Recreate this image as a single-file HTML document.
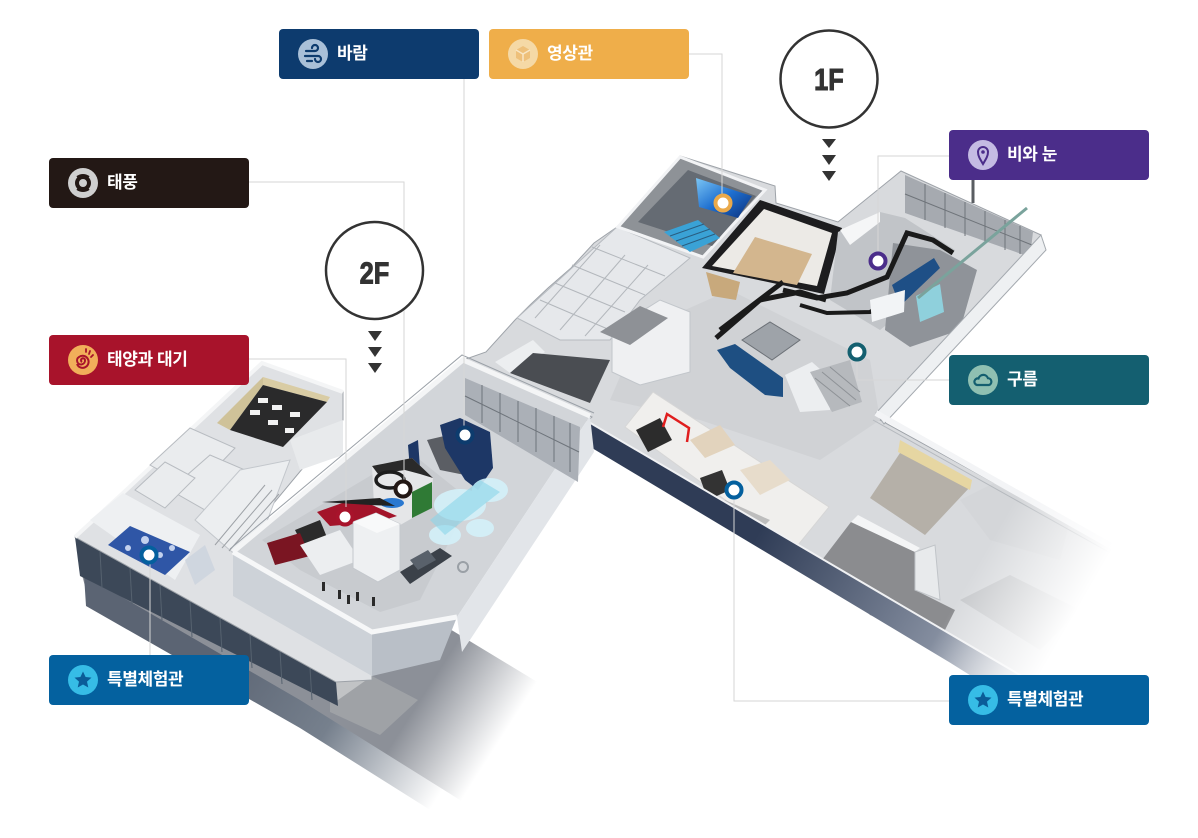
<!DOCTYPE html>
<html><head><meta charset="utf-8">
<style>
html,body{margin:0;padding:0;background:#fff;}
body{width:1198px;height:838px;position:relative;overflow:hidden;font-family:"Liberation Sans","Noto Sans CJK KR",sans-serif;}
.lb{position:absolute;width:200px;height:50px;border-radius:4px;color:#fff;font-weight:bold;font-size:17px;line-height:50px;box-sizing:border-box;padding-left:58px;letter-spacing:-0.4px;white-space:nowrap;}
.lb svg{position:absolute;left:19px;top:10px;width:30px;height:30px;}
svg.main{position:absolute;left:0;top:0;}
</style></head>
<body>
<svg class="main" width="1198" height="838" viewBox="0 0 1198 838">
<defs>
 <linearGradient id="plaza" gradientUnits="userSpaceOnUse" x1="470" y1="622" x2="545" y2="670">
  <stop offset="0" stop-color="#8c9098"/>
  <stop offset="1" stop-color="#ffffff"/>
 </linearGradient>
 <linearGradient id="base" gradientUnits="userSpaceOnUse" x1="280" y1="560" x2="500" y2="700">
  <stop offset="0" stop-color="#5b6473"/>
  <stop offset="0.5" stop-color="#76808d"/>
  <stop offset="1" stop-color="#ffffff"/>
 </linearGradient>
 <linearGradient id="band" gradientUnits="userSpaceOnUse" x1="760" y1="530" x2="1080" y2="710">
  <stop offset="0" stop-color="#2f3c56"/>
  <stop offset="0.6" stop-color="#8a93a4"/>
  <stop offset="1" stop-color="#ffffff"/>
 </linearGradient>
 <linearGradient id="fadeR" gradientUnits="userSpaceOnUse" x1="1000" y1="525" x2="1095" y2="580">
  <stop offset="0" stop-color="#fff" stop-opacity="0"/>
  <stop offset="1" stop-color="#fff" stop-opacity="1"/>
 </linearGradient>
 <linearGradient id="screen" x1="0" y1="0" x2="1" y2="1">
  <stop offset="0" stop-color="#7cc6f4"/>
  <stop offset="0.5" stop-color="#1e6fd0"/>
  <stop offset="1" stop-color="#0c2f7a"/>
 </linearGradient>
</defs>

<!-- lower-left ground: plaza + base face -->
<polygon points="78,560 338,700 372,676 430,617 600,720 470,822 443,800 86,590" fill="url(#plaza)"/>
<polygon points="330,660 372,676 418,700 380,735 330,712" fill="#a6a9ad" opacity="0.7"/>
<polygon points="84,575 300,700 460,800 470,835 300,728 86,606" fill="url(#base)"/>
<!-- glass band -->
<polygon points="75,537 336,682 338,706 80,576" fill="#3c4858"/>
<g stroke="#56626f" stroke-width="1">
 <line x1="100" y1="552" x2="102" y2="588"/><line x1="130" y1="568" x2="132" y2="604"/>
 <line x1="160" y1="585" x2="162" y2="620"/><line x1="190" y1="601" x2="192" y2="637"/>
 <line x1="220" y1="618" x2="222" y2="652"/><line x1="250" y1="634" x2="252" y2="668"/>
 <line x1="280" y1="651" x2="282" y2="684"/><line x1="310" y1="668" x2="312" y2="700"/>
</g>

<!-- 1F main floor -->
<polygon points="680,156 775,186 776,203 838,222 901,171 1041,235 1043,252 880,420 1180,585 1180,720 1060,700 587,421 592,417 463,360 486,352 515,320 530,305 548,288 571,268 594,243 617,227" fill="#d8dadd" stroke="#9ea3a9" stroke-width="1"/>
<polygon points="640,330 730,290 870,360 880,420 820,460 700,420 610,400" fill="#d0d2d5"/>
<!-- small rooms grid -->
<polygon points="517,318 617,227 690,258 640,300 610,340 560,340" fill="#e6e8eb" stroke="#b7bbc0"/>
<g stroke="#b3b7bc" stroke-width="1" fill="none">
 <line x1="540" y1="300" x2="610" y2="330"/><line x1="555" y1="283" x2="625" y2="312"/>
 <line x1="572" y1="265" x2="645" y2="295"/><line x1="592" y1="247" x2="665" y2="276"/>
 <line x1="560" y1="330" x2="625" y2="255"/><line x1="585" y1="336" x2="648" y2="265"/>
 <line x1="535" y1="318" x2="600" y2="245"/>
</g>
<!-- white tall block and stairs -->
<polygon points="612,330 660,300 690,312 690,372 640,385 612,372" fill="#eff0f2" stroke="#c2c6cb"/>
<polygon points="600,332 640,306 668,318 630,345" fill="#8e9196"/>
<!-- dark room -->
<polygon points="495,362 533,340 545,352 510,373" fill="#eceef0"/>
<polygon points="510,373 533,353 610,360 590,403" fill="#4a4d52"/>

<!-- 영상관 room -->
<polygon points="680,157 765,190 703,257 618,227" fill="#8e9297" stroke="#f2f3f5" stroke-width="3"/>
<polygon points="688,170 756,196 712,246 638,222" fill="#656b73"/>
<polygon points="696,178 752,196 738,218 699,207" fill="url(#screen)"/>
<polygon points="664,232 698,220 720,238 690,252" fill="#3aa2d6"/>
<g stroke="#2a5d80" stroke-width="1"><line x1="670" y1="236" x2="704" y2="224"/><line x1="676" y1="241" x2="710" y2="229"/><line x1="682" y1="246" x2="715" y2="234"/></g>

<!-- black-walled room -->
<polygon points="760,200 842,228 824,294 702,268" fill="#1d1d1f"/>
<polygon points="764,209 832,233 817,286 712,266" fill="#eceae6"/>
<polygon points="755,237 812,254 797,285 733,273" fill="#d3b68e"/>
<polygon points="706,272 740,282 736,300 712,296" fill="#c8a97c"/>
<polyline points="716,338 760,300 800,292 826,300" fill="none" stroke="#1b1b1b" stroke-width="5"/>

<!-- 비와 눈 area -->
<polygon points="838,232 880,212 905,218 955,250 930,290 880,330 830,300" fill="#c1c4c8"/>
<polygon points="893,243 940,250 977,270 960,330 910,347 885,330" fill="#8f9399"/>
<polyline points="783,290 817,298 847,293 887,277 907,233 933,240 953,253" fill="none" stroke="#1a1a1a" stroke-width="5"/>
<polyline points="720,330 783,282" fill="none" stroke="#1a1a1a" stroke-width="5"/>
<polyline points="800,305 827,313 870,312 905,290" fill="none" stroke="#1a1a1a" stroke-width="4"/>
<polygon points="892,285 934,258 940,268 900,306" fill="#1e4f86"/>
<polygon points="916,296 940,284 944,312 920,322" fill="#8fd0dc"/>
<polygon points="870,300 905,290 904,312 872,322" fill="#f2f4f6"/>
<polygon points="905,175 1033,232 1030,257 905,213" fill="#a6aab0"/>
<g stroke="#6f747a" stroke-width="1">
 <line x1="905" y1="194" x2="1032" y2="245"/>
 <line x1="925" y1="184" x2="925" y2="220"/><line x1="945" y1="193" x2="945" y2="228"/>
 <line x1="965" y1="202" x2="965" y2="236"/><line x1="985" y1="211" x2="985" y2="243"/>
 <line x1="1005" y1="220" x2="1005" y2="250"/><line x1="1020" y1="226" x2="1020" y2="254"/>
</g>
<polygon points="1041,235 1046,250 884,424 876,413" fill="#eef0f2" stroke="#a4a9af"/>
<line x1="1027" y1="208" x2="918" y2="298" stroke="#7aa39c" stroke-width="3"/>
<line x1="973" y1="179" x2="973" y2="203" stroke="#5a5d62" stroke-width="3"/>
<polygon points="840,230 880,212 880,222 850,245" fill="#f5f6f7"/>

<!-- lobby blue exhibit & cage -->
<polygon points="742,340 770,322 800,340 772,360" fill="#9ea3a9" stroke="#6c7177"/>
<polygon points="717,350 735,344 783,378 783,397 765,395 730,368" fill="#1e4f82"/>
<polygon points="785,375 812,362 830,378 830,410 800,412" fill="#eceef0"/>
<polygon points="810,372 850,360 862,402 832,412" fill="#b6b9bd"/>
<g stroke="#8e9297" stroke-width="1"><line x1="815" y1="378" x2="850" y2="406"/><line x1="822" y1="372" x2="856" y2="400"/><line x1="830" y1="367" x2="860" y2="392"/></g>

<!-- corridor: 특별체험관 room -->
<polygon points="625,427 653,392 829,507 794,550" fill="#f0efed" stroke="#d6d6d6"/>
<polygon points="636,430 660,418 672,440 648,452" fill="#2c2c2c"/>
<polyline points="663,427 667,414 689,428 687,442" fill="none" stroke="#e01e1e" stroke-width="2.5"/>
<polygon points="700,478 722,470 730,490 708,500" fill="#333"/>
<polygon points="690,440 720,425 735,445 705,458" fill="#e2d3bd"/>
<polygon points="740,470 770,460 790,480 760,495" fill="#e7dccb"/>
<polygon points="725,500 770,520 760,530 718,510" fill="#bdbdbd"/>
<!-- lounge -->
<polygon points="904,447 970,487 925,535 870,498" fill="#b5b0a8"/>
<polygon points="900,440 972,480 970,490 898,452" fill="#e6d6a2"/>
<!-- dark grey room -->
<polygon points="822,560 851,522 915,552 915,590 955,610 940,640 870,615" fill="#8b8c8f"/>
<polygon points="851,522 858,515 920,548 915,552" fill="#f4f5f6"/>
<polygon points="915,552 935,545 940,600 915,590" fill="#e8eaec" stroke="#c0c4c8"/>
<polygon points="960,500 1000,480 1070,520 1060,560 990,540" fill="#d4d6d9"/>
<polygon points="960,600 1010,575 1080,610 1040,650" fill="#c7c9cc"/>
<polyline points="876,413 1180,585" fill="none" stroke="#f3f4f6" stroke-width="6"/>
<polyline points="873,420 1180,592" fill="none" stroke="#b5b9be" stroke-width="1"/>

<!-- corridor dark band -->
<polygon points="587,421 949,633 1090,716 1090,750 949,662 587,445" fill="url(#band)"/>
<line x1="587" y1="421" x2="1090" y2="716" stroke="#f0f1f3" stroke-width="2"/>

<!-- left wing -->
<polygon points="262,363 343,392 343,420 233,552 372,632 372,680 336,682 75,537 123,493" fill="#dfe1e4" stroke="#9da2a8" stroke-width="1"/>
<polyline points="75,537 123,493 262,363 343,392" fill="none" stroke="#f4f5f6" stroke-width="4"/>
<polygon points="263,377 330,397 327,402 263,385" fill="#d9cca4"/>
<polygon points="217,423 263,377 263,385 230,430" fill="#cfc299"/>
<polygon points="230,430 263,385 327,402 283,447" fill="#2a2a2b"/>
<g fill="#f2f2f2"><rect x="258" y="398" width="10" height="5"/><rect x="272" y="405" width="10" height="5"/><rect x="250" y="410" width="10" height="5"/><rect x="268" y="420" width="10" height="5"/><rect x="290" y="412" width="10" height="5"/><rect x="285" y="428" width="9" height="5"/></g>
<g stroke="#b8bcc1" stroke-width="1" fill="#eaecee">
 <polygon points="150,465 190,428 235,448 195,490"/>
 <polygon points="170,490 210,455 245,470 205,510"/>
 <polygon points="135,490 165,462 195,478 165,508"/>
</g>
<polygon points="195,520 240,470 290,460 260,540 232,552" fill="#eceef0" stroke="#c3c7cc"/>
<g stroke="#9da1a6" stroke-width="1"><line x1="215" y1="545" x2="265" y2="485"/><line x1="222" y1="548" x2="272" y2="490"/><line x1="229" y1="551" x2="279" y2="494"/></g>
<polygon points="290,440 343,420 343,455 300,470" fill="#e8eaec"/>
<!-- 특별체험관 left room -->
<polygon points="90,520 123,493 200,535 175,580" fill="#eef0f2"/>
<polygon points="108,545 130,526 190,552 165,575" fill="#2f56a6"/>
<g fill="#e8f0ff" opacity="0.8"><circle cx="128" cy="548" r="3"/><circle cx="145" cy="540" r="4"/><circle cx="160" cy="555" r="3"/><circle cx="172" cy="548" r="3"/><circle cx="150" cy="562" r="2.5"/></g>
<polygon points="185,560 205,545 215,570 195,585" fill="#cfd6df"/>

<!-- 2F block -->
<polygon points="463,360 590,416 457,617 372,632 233,552" fill="#d2d5d9"/>
<polygon points="233,552 372,632 372,676 233,596" fill="#cdd2d8"/>
<polygon points="372,632 457,617 440,660 372,676" fill="#b9bfc7"/>
<polygon points="590,416 594,452 462,652 457,617" fill="#e2e5e9"/>
<polygon points="465,378 580,427 578,482 465,415" fill="#abb0b7"/>
<g stroke="#6e747b" stroke-width="1">
 <line x1="465" y1="396" x2="579" y2="452"/>
 <line x1="482" y1="385" x2="482" y2="423"/><line x1="500" y1="393" x2="500" y2="432"/>
 <line x1="518" y1="401" x2="518" y2="442"/><line x1="536" y1="408" x2="536" y2="452"/>
 <line x1="554" y1="416" x2="554" y2="462"/><line x1="570" y1="423" x2="570" y2="472"/>
</g>
<polyline points="233,552 463,360 590,416" fill="none" stroke="#f4f5f6" stroke-width="5"/>
<polyline points="230,549 462,355 594,413" fill="none" stroke="#9aa0a7" stroke-width="1"/>
<polyline points="233,552 372,632 457,617" fill="none" stroke="#f6f7f8" stroke-width="5"/>
<polygon points="262,540 380,470 420,460 470,500 420,600 380,612 300,570" fill="#c8cbcf"/>
<!-- 바람 exhibit -->
<polygon points="427,440 470,430 492,455 480,478 440,470" fill="#5b5e64"/>
<polygon points="440,425 460,418 490,432 493,468 478,490 465,480 445,448" fill="#1d3766"/>
<polygon points="408,445 418,440 420,468 410,470" fill="#1d3766"/>
<!-- 태풍 exhibit -->
<polygon points="372,466 412,458 433,478 430,508 395,528 374,505" fill="#e5e6e8"/>
<polygon points="372,466 412,458 433,478 420,474 405,470 378,474" fill="#2a2a2a"/>
<ellipse cx="390" cy="480" rx="14" ry="8" fill="none" stroke="#1c1c1c" stroke-width="3.5"/>
<ellipse cx="392" cy="503" rx="12" ry="5" fill="#2a78d0"/>
<polygon points="412,492 432,482 432,508 412,518" fill="#2f7a35"/>
<!-- 태양 exhibit -->
<polygon points="317,512 345,502 372,505 397,516 378,522 330,526" fill="#a3142a"/>
<polygon points="322,502 380,498 395,506 370,505" fill="#222"/>
<polygon points="295,530 320,520 330,545 305,550" fill="#2b2b2b"/>
<polygon points="267,543 300,533 310,556 275,565" fill="#7a1522"/>
<polygon points="300,545 340,530 360,560 320,575" fill="#eceef0"/>
<!-- white column -->
<polygon points="353,522 376,513 400,524 400,570 378,582 353,568" fill="#eef0f2" stroke="#c4c8cd"/>
<polygon points="353,522 376,513 400,524 377,533" fill="#f8f9fa"/>
<!-- mist -->
<g fill="#d4f1fa" opacity="0.9">
 <ellipse cx="460" cy="505" rx="26" ry="16"/><ellipse cx="445" cy="535" rx="16" ry="10"/>
 <ellipse cx="490" cy="490" rx="18" ry="12"/><ellipse cx="480" cy="528" rx="14" ry="9"/>
</g>
<polygon points="430,520 480,480 500,492 445,535" fill="#8ad6ea" opacity="0.6"/>
<polygon points="400,572 440,548 452,556 410,584" fill="#3b4149"/>
<polygon points="410,560 428,550 436,560 418,570" fill="#59616b"/>
<circle cx="463" cy="567" r="5" fill="none" stroke="#9aa0a6" stroke-width="2"/>
<g fill="#2a2a2a"><rect x="338" y="590" width="3" height="9"/><rect x="347" y="595" width="3" height="9"/><rect x="356" y="592" width="3" height="9"/><rect x="322" y="582" width="3" height="9"/><rect x="372" y="597" width="3" height="9"/></g>

<!-- right fade overlay -->
<polygon points="960,380 1198,380 1198,838 880,838 880,600" fill="url(#fadeR)"/>

<!-- connector lines -->
<g stroke="#d6d6d6" stroke-width="1" fill="none">
 <polyline points="464,79 464,426"/>
 <polyline points="688,54 722,54 722,194"/>
 <polyline points="248,182 404,182 404,480"/>
 <polyline points="248,359 346,359 346,507"/>
 <polyline points="150,564 150,655"/>
 <polyline points="949,156 878,156 878,251"/>
 <polyline points="857,361 857,380 949,380"/>
 <polyline points="734,499 734,701 949,701"/>
</g>

<!-- pins -->
<g stroke-width="4" fill="#fff">
 <circle cx="723" cy="203" r="7.5" stroke="#eaa94a"/>
 <circle cx="878" cy="261" r="7.5" stroke="#4b2d8a"/>
 <circle cx="857" cy="352" r="7.5" stroke="#146070"/>
 <circle cx="465" cy="435" r="7.5" stroke="#0d3c6e"/>
 <circle cx="403" cy="489" r="7.5" stroke="#231815"/>
 <circle cx="345" cy="517" r="7.5" stroke="#a8132b"/>
 <circle cx="149" cy="555" r="7.5" stroke="#04609e"/>
 <circle cx="734" cy="490" r="7.5" stroke="#04609e"/>
</g>

<!-- floor circles -->
<circle cx="829" cy="79" r="48.5" fill="#fff" stroke="#333" stroke-width="2.5"/>
<text x="829" y="90" text-anchor="middle" font-family="Liberation Sans, sans-serif" font-weight="bold" font-size="31" fill="#333" stroke="#333" stroke-width="1" transform="translate(829,0) scale(0.82,1) translate(-829,0)">1F</text>
<polygon points="822,139 836,139 829,148" fill="#333"/>
<polygon points="822,155 836,155 829,165" fill="#333"/>
<polygon points="822,171 836,171 829,181" fill="#333"/>

<circle cx="374.5" cy="270.5" r="48.5" fill="#fff" stroke="#333" stroke-width="2.5"/>
<text x="374.5" y="283.5" text-anchor="middle" font-family="Liberation Sans, sans-serif" font-weight="bold" font-size="31" fill="#333" stroke="#333" stroke-width="1" transform="translate(374.5,0) scale(0.82,1) translate(-374.5,0)">2F</text>
<polygon points="368,331 382,331 375,341" fill="#333"/>
<polygon points="368,347 382,347 375,357" fill="#333"/>
<polygon points="368,363 382,363 375,373" fill="#333"/>
</svg>

<!-- labels -->
<div class="lb" style="left:279px;top:29px;background:#0d3b6e;">
<svg viewBox="0 0 30 30"><circle cx="15" cy="15" r="15" fill="#a9c0d8"/><g fill="none" stroke="#0d3b6e" stroke-width="2.2" stroke-linecap="round"><path d="M8 12 H17 A3 3 0 1 0 14 9"/><path d="M7 17 H20 A3 3 0 1 1 17 20"/><path d="M9 22 H14"/></g></svg>바람</div>
<div class="lb" style="left:489px;top:29px;background:#efae4a;">
<svg viewBox="0 0 30 30"><circle cx="15" cy="15" r="15" fill="#f5d9a6"/><polygon points="15,7 22,11 22,19 15,23 8,19 8,11" fill="#eec07a"/><g fill="none" stroke="#f8e6c4" stroke-width="1.5"><polyline points="8,11 15,15 22,11"/><line x1="15" y1="15" x2="15" y2="23"/></g></svg>영상관</div>
<div class="lb" style="left:49px;top:158px;background:#231815;">
<svg viewBox="0 0 30 30"><circle cx="15" cy="15" r="15" fill="#cfcfcf"/><circle cx="15" cy="15" r="6" fill="none" stroke="#231815" stroke-width="4"/><path d="M9 9 Q15 5 21 9" fill="none" stroke="#231815" stroke-width="2"/><path d="M21 21 Q15 25 9 21" fill="none" stroke="#231815" stroke-width="2"/></svg>태풍</div>
<div class="lb" style="left:49px;top:335px;background:#a8132b;">
<svg viewBox="0 0 30 30"><circle cx="15" cy="15" r="15" fill="#f1af5a"/><path d="M14 17 a2 2 0 1 1 3 -2 a4 4 0 1 1 -6 -3 a6 6 0 1 1 -2 7" fill="none" stroke="#a8132b" stroke-width="2"/><g stroke="#a8132b" stroke-width="1.8" stroke-linecap="round"><line x1="18" y1="4" x2="18" y2="7"/><line x1="22" y1="6" x2="21" y2="9"/><line x1="25" y1="10" x2="23" y2="12"/></g></svg>태양과 대기</div>
<div class="lb" style="left:49px;top:655px;background:#04619f;">
<svg viewBox="0 0 30 30"><circle cx="15" cy="15" r="15" fill="#36bce6"/><polygon points="15,6.5 17.6,12 23.5,12.6 19,16.6 20.3,22.5 15,19.5 9.7,22.5 11,16.6 6.5,12.6 12.4,12" fill="#0b5c98"/></svg>특별체험관</div>
<div class="lb" style="left:949px;top:130px;background:#4b2d8a;">
<svg viewBox="0 0 30 30"><circle cx="15" cy="15" r="15" fill="#c4bbe3"/><path d="M15 24 C12 19 10 16 10 12 A5 5 0 0 1 20 12 C20 16 18 19 15 24 Z" fill="none" stroke="#4b2d8a" stroke-width="2"/><circle cx="15" cy="12" r="1.8" fill="#4b2d8a"/></svg>비와 눈</div>
<div class="lb" style="left:949px;top:355px;background:#145f70;">
<svg viewBox="0 0 30 30"><circle cx="15" cy="15" r="15" fill="#8fc0b2"/><path d="M9 20 H21 A3.5 3.5 0 0 0 20 13.2 A5 5 0 0 0 10.5 13.5 A3.3 3.3 0 0 0 9 20 Z" fill="none" stroke="#145f70" stroke-width="2.2"/></svg>구름</div>
<div class="lb" style="left:949px;top:675px;background:#04619f;">
<svg viewBox="0 0 30 30"><circle cx="15" cy="15" r="15" fill="#36bce6"/><polygon points="15,6.5 17.6,12 23.5,12.6 19,16.6 20.3,22.5 15,19.5 9.7,22.5 11,16.6 6.5,12.6 12.4,12" fill="#0b5c98"/></svg>특별체험관</div>
</body></html>
